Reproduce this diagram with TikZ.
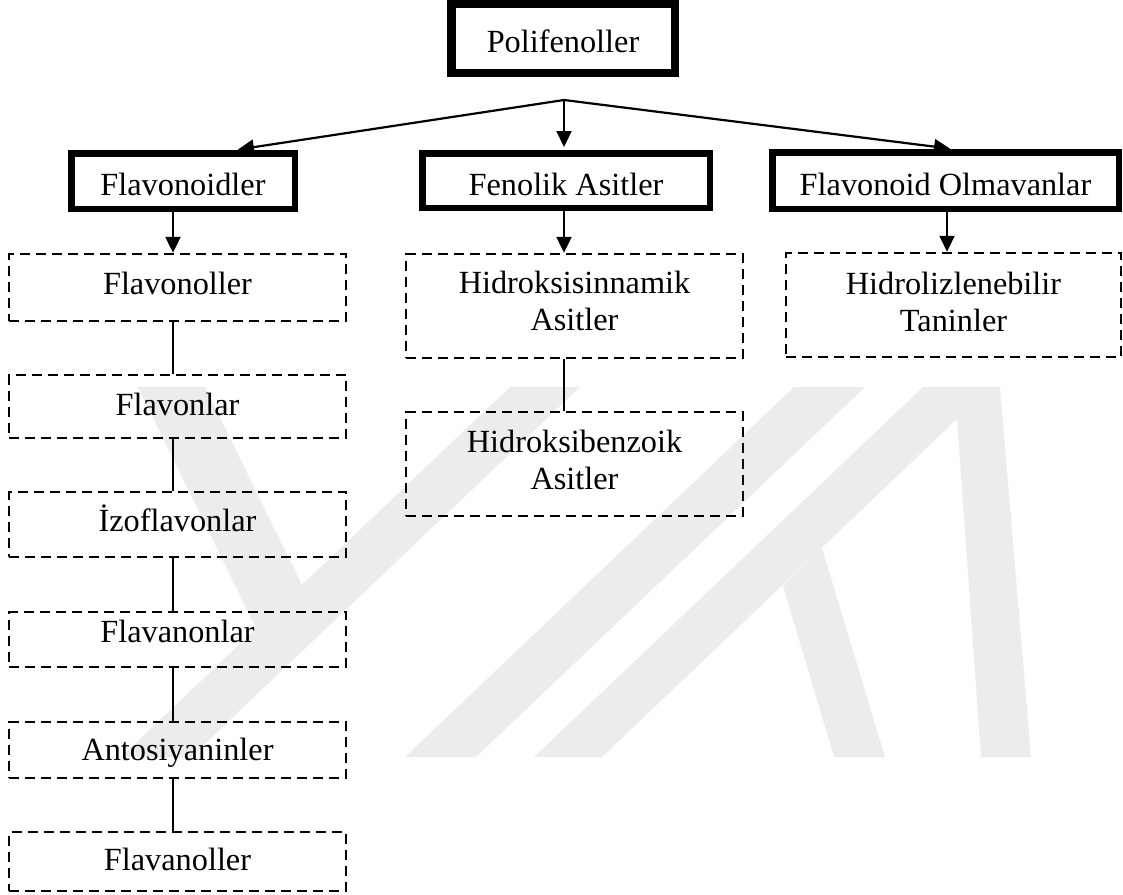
\documentclass[tikz,border=0pt]{standalone}
\usepackage{fontspec}
\setmainfont{Liberation Serif}
\usetikzlibrary{arrows.meta}
\definecolor{wm}{RGB}{236,236,236}
\begin{document}
\begin{tikzpicture}[x=1pt,y=-1pt,
  every node/.style={inner sep=0pt, font=\fontsize{32.3}{37}\selectfont},
  thickbox/.style={draw, line width=6.5pt, minimum width=#1},
  dbox/.style={draw, line width=2.6pt, dash pattern=on 10pt off 6pt, minimum width=#1},
  tb/.style 2 args={text height=#1, text depth=#2},
  arr/.style={line width=2.2pt, -{Triangle[length=16pt,width=15pt]}},
  link/.style={line width=1.5pt},
  wmark/.style={fill=wm, draw=none}]
\useasboundingbox (0,0) rectangle (1123,894);

% faint background watermark
\fill[wmark] (138,387) -- (205,387) -- (302,585) -- (256,628) -- cycle;
\fill[wmark] (510,387) -- (580,387) -- (191,757) -- (121,757) -- cycle;
\fill[wmark] (794,387) -- (865,387) -- (476,757) -- (405,757) -- cycle;
\fill[wmark] (923,387) -- (1000,387) -- (1031,757) -- (981,757) -- (957,419) -- (602,757) -- (534,757) -- cycle;
\fill[wmark] (783,586) -- (822,548) -- (885,757) -- (834,757) -- cycle;

% top node
\node[draw, line width=6.7pt, minimum width=225.3pt, tb={48.65pt}{21.65pt}] (poli) at (563,38.5) {Polifenoller};
\draw[line width=2.3pt] ([shift={(7.5,7)}]poli.north west) rectangle ([shift={(-6.5,-6.5)}]poli.south east);

% second level
\node[thickbox=223.5pt, tb={41.75pt}{13.75pt}] (fld) at (183,181) {Flavonoidler};
\node[thickbox=287.5pt, tb={41.75pt}{12.75pt}] (fen) at (566,180.5) {Fenolik Asitler};
\node[thickbox=346.5pt, tb={42.75pt}{13.75pt}] (olm) at (945.5,180.5) {Flavonoid Olmavanlar};

% left column
\node[dbox=336.8pt, tb={39.9pt}{26.9pt}] (flvnol) at (177.5,287.5) {Flavonoller};
\node[dbox=336.8pt, tb={39.9pt}{22.9pt}] (flvon) at (177.5,406.5) {Flavonlar};
\node[dbox=336.8pt, tb={38.9pt}{25.9pt}] (izo) at (177.5,524.5) {İzoflavonlar};
\node[dbox=336.8pt, tb={29.9pt}{24.9pt}] (flvnon) at (177.5,639.5) {Flavanonlar};
\node[dbox=336.8pt, tb={38.6pt}{17.2pt}] (anto) at (177.5,750) {Antosiyaninler};
\node[dbox=336.8pt, tb={38.6pt}{20.2pt}] (flvnll) at (177.5,861.5) {Flavanoller};

% middle column
\node[dbox=336.8pt, align=center, tb={75.9pt}{27.9pt}] (hsin) at (574.5,306) {Hidroksisinnamik\\Asitler};
\node[dbox=336.8pt, align=center, tb={77pt}{26.9pt}] (hben) at (574.5,464) {Hidroksibenzoik\\Asitler};

% right column
\node[dbox=334.8pt, align=center, tb={78.2pt}{25.7pt}] (hidro) at (953.5,305) {Hidrolizlenebilir\\Taninler};

% connectors
\coordinate (J) at (564,100);
\coordinate (xA) at (235,0);
\coordinate (xB) at (564,0);
\coordinate (xC) at (953,0);
\coordinate (xL) at (173,0);
\coordinate (xM) at (564,0);
\coordinate (xR) at (947,0);
\draw[arr, shorten >=3pt] (J) -- (fld.north -| xA);
\draw[arr, shorten >=3pt] (J) -- (fen.north -| xB);
\draw[arr, shorten >=3pt] (J) -- (olm.north -| xC);

\draw[arr] (fld.south -| xL) -- (flvnol.north -| xL);
\draw[arr] (fen.south -| xM) -- (hsin.north -| xM);
\draw[arr] (olm.south -| xR) -- (hidro.north -| xR);

\draw[link] (flvnol.south -| xL) -- (flvon.north -| xL);
\draw[link] (flvon.south -| xL) -- (izo.north -| xL);
\draw[link] (izo.south -| xL) -- (flvnon.north -| xL);
\draw[link] (flvnon.south -| xL) -- (anto.north -| xL);
\draw[link] (anto.south -| xL) -- (flvnll.north -| xL);
\draw[link] (hsin.south -| xM) -- (hben.north -| xM);
\end{tikzpicture}
\end{document}
